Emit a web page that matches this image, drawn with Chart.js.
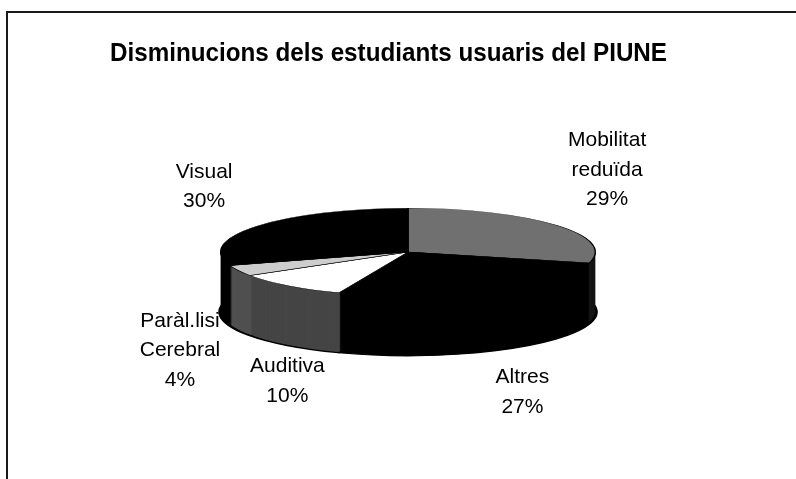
<!DOCTYPE html>
<html>
<head>
<meta charset="utf-8">
<title>Disminucions dels estudiants usuaris del PIUNE</title>
<script src="https://cdn.jsdelivr.net/npm/chart.js@4.4.0/dist/chart.umd.min.js"></script>
<style>
  html, body { margin: 0; padding: 0; background: #fff; }
  #wrap { width: 796px; height: 479px; }
</style>
</head>
<body>
<div id="wrap"><canvas id="pieChart" width="796" height="479"></canvas></div>
<script>
// chart data
const chartTitle = 'Disminucions dels estudiants usuaris del PIUNE';
const categories = [['Mobilitat', 'reduïda'], ['Altres'], ['Auditiva'], ['Paràl.lisi', 'Cerebral'], ['Visual']];
const percentages = [29, 27, 10, 4, 30];

// colours of the top face and of the side wall
const topColors = ['#707070', '#000000', '#ffffff', '#cdcdcd', '#000000'];
const sideColors = ['#151515', '#000000', '#454545', '#505050', '#000000'];

// 3d look
const TILT = 0.234;   // vertical squash of the pie
const DEPTH = 60;     // wall height in px
const labelShiftX = [0, 0, 40, 0, 0];

function tilt(ctx, arc, dy) {
    ctx.translate(arc.x, arc.y + dy);
    ctx.scale(1, TILT);
    ctx.translate(-arc.x, -arc.y);
}

const pie3d = {
    id: 'pie3d',
    beforeDraw(chart) {
        const ctx = chart.ctx;
        ctx.save();
        // frame
        ctx.strokeStyle = '#1a1a1a';
        ctx.lineWidth = 2;
        ctx.beginPath();
        ctx.moveTo(7, 479);
        ctx.lineTo(7, 12);
        ctx.lineTo(796, 12);
        ctx.stroke();
        // title
        ctx.fillStyle = '#000';
        ctx.font = 'bold 26px "Liberation Sans", Arial, sans-serif';
        ctx.textAlign = 'left';
        ctx.textBaseline = 'alphabetic';
        ctx.fillText(chartTitle, 110, 61, 557);
        ctx.restore();
    },
    beforeDatasetsDraw(chart) {
        const ctx = chart.ctx;
        const meta = chart.getDatasetMeta(0);
        const center = meta.data[0];
        // side wall: stack the slices downwards
        for (let d = DEPTH; d > 0; d--) {
            ctx.save();
            tilt(ctx, center, d);
            meta.data.forEach((arc, i) => {
                const side = Object.create(arc);
                side.options = Object.assign({}, arc.options, {
                    backgroundColor: sideColors[i],
                    borderColor: '#000',
                    borderWidth: d === DEPTH ? 5 : 0
                });
                side.draw(ctx);
            });
            ctx.restore();
        }
        // top face is drawn by chart.js with this transform
        ctx.save();
        tilt(ctx, center, 0);
    },
    afterDatasetsDraw(chart) {
        const ctx = chart.ctx;
        ctx.restore();
        const meta = chart.getDatasetMeta(0);
        const lineH = 29.5;
        ctx.save();
        ctx.fillStyle = '#000';
        ctx.font = '21px "Liberation Sans", Arial, sans-serif';
        ctx.textAlign = 'center';
        ctx.textBaseline = 'middle';
        meta.data.forEach((arc, i) => {
            const mid = (arc.startAngle + arc.endAngle) / 2;
            const dx = Math.cos(mid), dy = Math.sin(mid);
            const lines = categories[i].concat(percentages[i] + '%');
            const x = arc.x + dx * 252 + labelShiftX[i];
            let y0;
            if (dy > 0) {
                // below the pie: block centred under the wall
                y0 = arc.y + DEPTH + dy * 90 - (lines.length - 1) * lineH / 2;
            } else {
                // behind the pie: last line sits on the anchor
                y0 = arc.y + dy * 86 - (lines.length - 1) * lineH;
            }
            lines.forEach((t, j) => ctx.fillText(t, x, y0 + j * lineH));
        });
        ctx.restore();
    }
};

new Chart(document.getElementById('pieChart').getContext('2d'), {
    type: 'pie',
    data: {
        labels: categories.map(c => c.join(' ')),
        datasets: [{
            data: percentages,
            backgroundColor: topColors,
            borderColor: '#000',
            borderWidth: 1.5,
            clip: false
        }]
    },
    options: {
        responsive: false,
        animation: false,
        devicePixelRatio: 1,
        layout: {
            padding: { left: 220, right: 200, top: 64, bottom: 39 }
        },
        plugins: {
            legend: { display: false },
            tooltip: { enabled: false }
        }
    },
    plugins: [pie3d]
});
</script>
</body>
</html>
